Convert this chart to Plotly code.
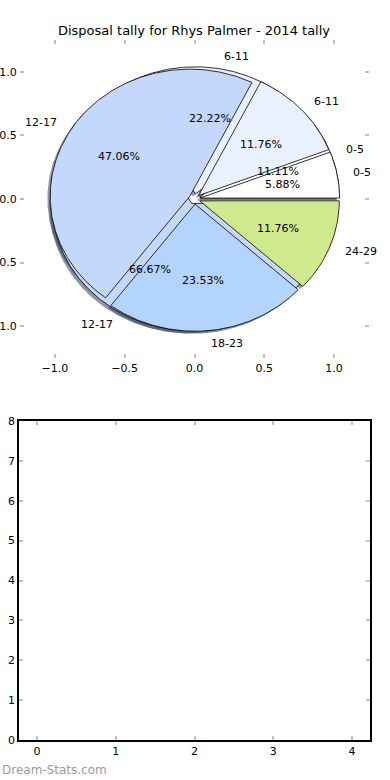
import numpy as np
import plotly.graph_objects as go

# ---- data ----
title_text = "Disposal tally for Rhys Palmer - 2014 tally"
labels_a = ["0-5", "6-11", "12-17", "18-23", "24-29"]
values_a = [1, 2, 8, 4, 2]
labels_b = ["0-5", "6-11", "12-17"]
values_b = [1, 2, 6]
slice_colors = ["#FFFFFF", "#EAF1FE", "#C4D8FE", "#B3D4FF", "#CFEA8C"]
pie_xticks = [-1.0, -0.5, 0.0, 0.5, 1.0]
pie_xticktext = ["\u22121.0", "\u22120.5", "0.0", "0.5", "1.0"]
pie_yticks = [-1.0, -0.5, 0.0, 0.5, 1.0]
pie_yticktext = ["\u22121.0", "\u22120.5", "0.0", "0.5", "1.0"]
bar_xticks = [0, 1, 2, 3, 4]
bar_yticks = [0, 1, 2, 3, 4, 5, 6, 7, 8]

EXPLODE = 0.04
SHADOW = (-0.02, -0.02)
FONT = "DejaVu Sans"

W, H = 390, 780


def wedges(values, explode):
    total = float(sum(values))
    out = []
    start = 0.0
    for v in values:
        frac = v / total
        t1, t2 = start, start + 360.0 * frac
        mid = np.deg2rad((t1 + t2) / 2)
        cx, cy = explode * np.cos(mid), explode * np.sin(mid)
        th = np.deg2rad(np.linspace(t1, t2, max(8, int(abs(t2 - t1)) * 2)))
        xs = np.concatenate([[cx], cx + np.cos(th), [cx]])
        ys = np.concatenate([[cy], cy + np.sin(th), [cy]])
        out.append(dict(x=xs, y=ys, mid=mid, cx=cx, cy=cy, frac=frac))
        start = t2
    return out


wa = wedges(values_a, EXPLODE)
wb = wedges(values_b, EXPLODE)

fig = go.Figure()


def rgb(hexc):
    hexc = hexc.lstrip("#")
    return tuple(int(hexc[i:i + 2], 16) for i in (0, 2, 4))


# shadows (all beneath wedges)
for ws in (wb, wa):
    for i, w in enumerate(ws):
        r, g, b = rgb(slice_colors[i])
        fig.add_trace(go.Scatter(
            x=w["x"] + SHADOW[0], y=w["y"] + SHADOW[1], mode="lines",
            fill="toself", fillcolor=f"rgba({int(r*0.3)},{int(g*0.3)},{int(b*0.3)},0.55)",
            line=dict(width=0), hoverinfo="skip", showlegend=False,
            xaxis="x", yaxis="y"))

# wedges: 3-slice pie first, then 5-slice pie on top
for ws in (wb, wa):
    for i, w in enumerate(ws):
        fig.add_trace(go.Scatter(
            x=w["x"], y=w["y"], mode="lines", fill="toself",
            fillcolor=slice_colors[i], line=dict(color="black", width=0.8),
            hoverinfo="skip", showlegend=False, xaxis="x", yaxis="y"))

annotations = []
for ws, labs in ((wb, labels_b), (wa, labels_a)):
    for w, lab in zip(ws, labs):
        c, s = np.cos(w["mid"]), np.sin(w["mid"])
        lx, ly = w["cx"] + 1.1 * c, w["cy"] + 1.1 * s
        annotations.append(dict(
            x=lx, y=ly, xref="x", yref="y", text=lab, showarrow=False,
            xanchor="left" if lx > 0 else "right", yanchor="middle",
            font=dict(family=FONT, size=11, color="black")))
        px, py = w["cx"] + 0.6 * c, w["cy"] + 0.6 * s
        annotations.append(dict(
            x=px, y=py, xref="x", yref="y", text=f"{w['frac']*100:.2f}%",
            showarrow=False, xanchor="center", yanchor="middle",
            font=dict(family=FONT, size=11, color="black")))

annotations.append(dict(
    x=0, y=1 - 770 / H, xref="paper", yref="paper", text="Dream-Stats.com",
    showarrow=False, xanchor="left", yanchor="middle",
    font=dict(family=FONT, size=12, color="#9a9a9a")))

tickfont = dict(family=FONT, size=11, color="black")
common = dict(ticks="inside", ticklen=4, tickwidth=2, tickcolor="#c0c0c0",
              showgrid=False, zeroline=False, tickfont=tickfont, mirror="ticks",
              automargin=False)

fig.update_layout(
    width=W, height=H, margin=dict(l=0, r=0, t=0, b=0, autoexpand=False),
    paper_bgcolor="white", plot_bgcolor="white",
    title=dict(text=title_text, x=194 / W, xanchor="center", y=1 - 30 / H,
               yanchor="middle", font=dict(family=FONT, size=13, color="black")),
    xaxis=dict(domain=[20 / W, 369 / W], range=[-1.25, 1.25], anchor="y",
               tickvals=pie_xticks, ticktext=pie_xticktext,
               showline=True, linecolor="rgba(0,0,0,0)", **common),
    yaxis=dict(domain=[1 - 358 / H, 1 - 40 / H], range=[-1.25, 1.25], anchor="x",
               tickvals=pie_yticks, ticktext=pie_yticktext,
               showline=True, linecolor="rgba(0,0,0,0)", **common),
    xaxis2=dict(domain=[19 / W, 370 / W], range=[-0.23, 4.23], anchor="y2",
                tickvals=bar_xticks, showline=True, linecolor="black", linewidth=1.5,
                **common),
    yaxis2=dict(domain=[1 - 740 / H, 1 - 421 / H], range=[0, 8], anchor="x2",
                tickvals=bar_yticks, showline=True, linecolor="black", linewidth=1.5,
                **common),
    annotations=annotations,
)

# invisible trace to make the second axes render
fig.add_trace(go.Scatter(x=[], y=[], xaxis="x2", yaxis="y2", showlegend=False))

fig.write_html(
    "out.html",
    config={"displayModeBar": False},
    post_script="document.body.style.margin='0';document.body.style.overflow='hidden';",
)
